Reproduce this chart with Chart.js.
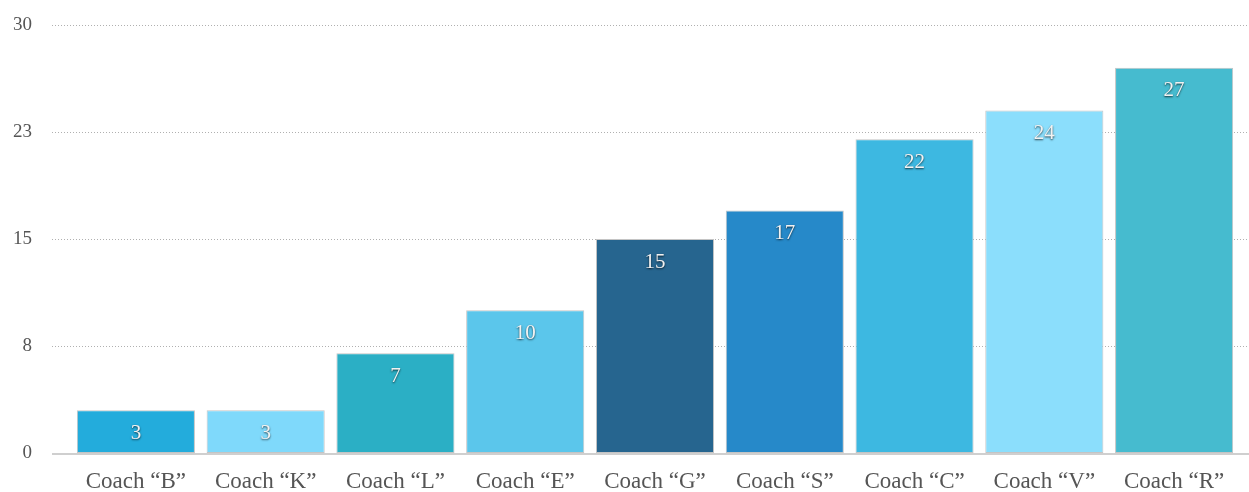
<!DOCTYPE html>
<html>
<head>
<meta charset="utf-8">
<script src="https://cdn.jsdelivr.net/npm/chart.js@4/dist/chart.umd.min.js"></script>
<style>
html,body{margin:0;padding:0;background:#fff;}
#c{display:block;}
</style>
</head>
<body>
<canvas id="c" width="1249" height="492"></canvas>
<script>
const categories = ['Coach \u201cB\u201d','Coach \u201cK\u201d','Coach \u201cL\u201d','Coach \u201cE\u201d','Coach \u201cG\u201d','Coach \u201cS\u201d','Coach \u201cC\u201d','Coach \u201cV\u201d','Coach \u201cR\u201d'];
const values = [3, 3, 7, 10, 15, 17, 22, 24, 27];
const barColors = ['#23acdc','#7fd9fb','#2bafc5','#5bc6eb','#26658f','#2689c9','#3db8e1','#8bdefc','#46bbcf'];
const yTicks = [0, 7.5, 15, 22.5, 30];

const serif = '"Liberation Serif", "Times New Roman", serif';

const gridPlugin = {
  id: 'fullGrid',
  beforeDatasetsDraw(chart) {
    const ctx = chart.ctx, y = chart.scales.y;
    ctx.save();
    yTicks.forEach(v => {
      const py = Math.round(y.getPixelForValue(v)) + 0.5;
      ctx.fillStyle = '#555';
      ctx.font = '19px ' + serif;
      ctx.textAlign = 'right';
      ctx.textBaseline = 'middle';
      ctx.fillText(String(Math.round(v)), 32, py);
      if (v === 0) return;
      ctx.strokeStyle = '#b0b0b0';
      ctx.lineWidth = 1;
      ctx.setLineDash([1, 2]);
      ctx.beginPath(); ctx.moveTo(52, py); ctx.lineTo(1249, py); ctx.stroke();
      ctx.setLineDash([]);
    });
    ctx.restore();
  },
  afterDatasetsDraw(chart) {
    const ctx = chart.ctx, y = chart.scales.y;
    ctx.save();
    const py = y.getPixelForValue(0) + 1;
    ctx.strokeStyle = '#cfcfcf';
    ctx.lineWidth = 2;
    ctx.beginPath(); ctx.moveTo(52, py); ctx.lineTo(1249, py); ctx.stroke();
    const meta = chart.getDatasetMeta(0);
    ctx.font = '21px ' + serif;
    ctx.textAlign = 'center';
    ctx.textBaseline = 'middle';
    meta.data.forEach((bar, i) => {
      ctx.shadowColor = 'rgba(0,0,0,0.75)';
      ctx.shadowOffsetX = 0;
      ctx.shadowOffsetY = 1;
      ctx.shadowBlur = 2;
      ctx.fillStyle = '#f2f2f2';
      ctx.fillText(String(values[i]), bar.x, bar.y + 23);
    });
    ctx.restore();
  }
};

new Chart(document.getElementById('c'), {
  type: 'bar',
  data: {
    labels: categories,
    datasets: [{
      data: values,
      backgroundColor: barColors,
      borderColor: '#c4c4c4',
      borderWidth: 1,
      borderSkipped: false,
      categoryPercentage: 1,
      barPercentage: 0.91
    }]
  },
  options: {
    responsive: false,
    animation: false,
    events: [],
    layout: { padding: { left: 0, right: 10, top: 25, bottom: 0 } },
    plugins: { legend: { display: false }, tooltip: { enabled: false } },
    scales: {
      x: {
        grid: { display: false, drawTicks: false },
        border: { display: false },
        ticks: { color: '#555', font: { family: serif, size: 23 }, padding: 15, maxRotation: 0, autoSkip: false },
        afterFit(s) { s.height = 39; }
      },
      y: {
        min: 0, max: 30,
        afterBuildTicks(s) { s.ticks = yTicks.map(v => ({ value: v })); },
        grid: { display: false, drawTicks: false },
        border: { display: false },
        ticks: { display: false },
        afterFit(s) { s.width = 71; }
      }
    }
  },
  plugins: [gridPlugin]
});
</script>
</body>
</html>
